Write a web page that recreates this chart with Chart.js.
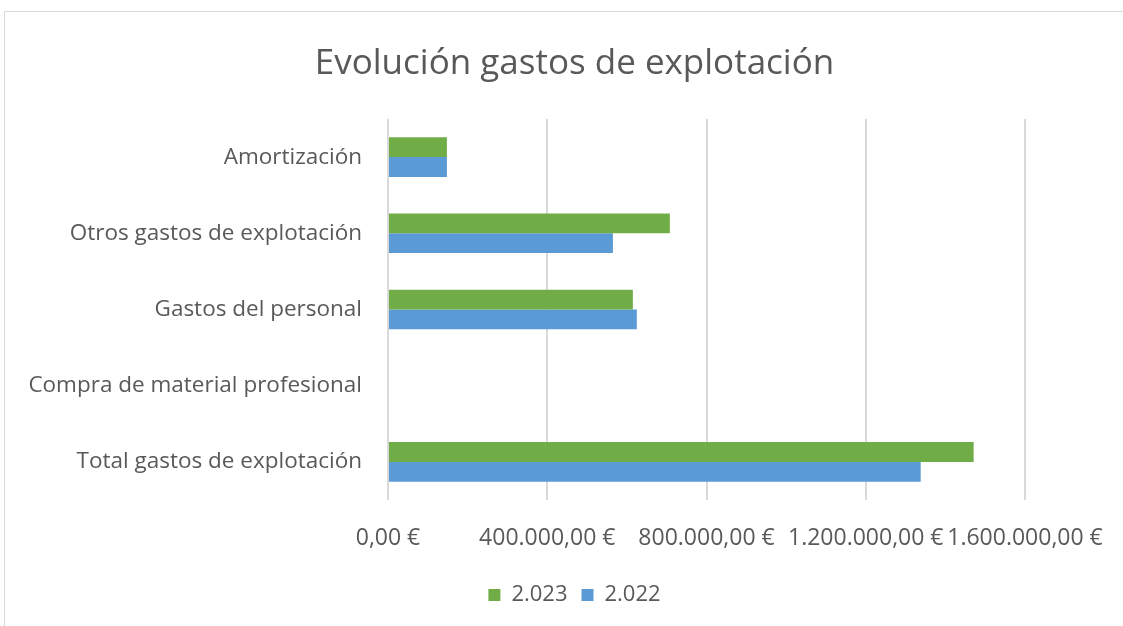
<!DOCTYPE html>
<html>
<head>
<meta charset="utf-8">
<script src="https://cdn.jsdelivr.net/npm/chart.js@4.4.1/dist/chart.umd.min.js"></script>
<style>
    html, body { margin: 0; padding: 0; background: #ffffff; }
    #wrap { position: relative; width: 1123px; height: 626px; overflow: hidden; }
    #frame { position: absolute; left: 4px; top: 11px; width: 1130px; height: 630px; border: 1px solid #d9d9d9; box-sizing: border-box; }
    #chart { position: absolute; left: 0; top: 0; }
</style>
</head>
<body>
<div id="wrap">
    <div id="frame"></div>
    <canvas id="chart" width="1123" height="626"></canvas>
</div>
<script>
    // Data
    const categories = [
        "Amortización",
        "Otros gastos de explotación",
        "Gastos del personal",
        "Compra de material profesional",
        "Total gastos de explotación"
    ];
    const values2023 = [148000, 708000, 615000, 0, 1471000];
    const values2022 = [148000, 565000, 625000, 0, 1338000];
    const tickValues = [0, 400000, 800000, 1200000, 1600000];

    function formatEuro(v) {
        const parts = v.toFixed(2).split(".");
        const ent = parts[0].replace(/\B(?=(\d{3})+(?!\d))/g, ".");
        return ent + "," + parts[1] + " €";
    }

    const fontFamily = "'Open Sans', sans-serif";
    const textColor = "#595959";

    new Chart(document.getElementById("chart"), {
        type: "bar",
        data: {
            labels: categories,
            datasets: [
                {
                    label: "2.023",
                    data: values2023,
                    backgroundColor: "#70ad47",
                    categoryPercentage: 0.52,
                    barPercentage: 1.0,
                },
                {
                    label: "2.022",
                    data: values2022,
                    backgroundColor: "#5b9bd5",
                    categoryPercentage: 0.52,
                    barPercentage: 1.0,
                },
            ],
        },
        options: {
            indexAxis: "y",
            responsive: false,
            animation: false,
            layout: {
                padding: { left: 26, right: 0, top: 0, bottom: 10 },
            },
            plugins: {
                title: {
                    display: true,
                    text: "Evolución gastos de explotación",
                    color: textColor,
                    font: { family: fontFamily, size: 35, weight: "normal" },
                    padding: { top: 43, bottom: 34 },
                },
                legend: {
                    display: true,
                    position: "bottom",
                    labels: {
                        color: textColor,
                        font: { family: fontFamily, size: 22 },
                        boxWidth: 12,
                        boxHeight: 12,
                        padding: 14,
                    },
                },
                tooltip: { enabled: false },
            },
            scales: {
                x: {
                    min: 0,
                    max: 1600000,
                    afterBuildTicks: function (scale) {
                        scale.ticks = tickValues.map(v => ({ value: v }));
                    },
                    afterFit: function (scale) {
                        scale.height = 70;
                        scale.paddingLeft = 0;
                        scale.paddingRight = 0;
                    },
                    grid: { color: "#d9d9d9", lineWidth: 2, drawTicks: false },
                    border: { display: false },
                    ticks: {
                        color: textColor,
                        font: { family: fontFamily, size: 23 },
                        padding: 25,
                        maxRotation: 0,
                        autoSkip: false,
                        callback: function (value) { return formatEuro(value); },
                    },
                },
                y: {
                    grid: { display: false },
                    border: { display: false },
                    afterFit: function (scale) { scale.width = 362; },
                    ticks: {
                        color: textColor,
                        font: { family: fontFamily, size: 22.5 },
                        padding: 18,
                    },
                },
                // empty right-hand axis keeps room for the last tick label
                yRight: {
                    type: "linear",
                    axis: "y",
                    position: "right",
                    display: true,
                    grid: { display: false },
                    border: { display: false },
                    ticks: { display: false },
                    afterFit: function (scale) { scale.width = 98; },
                },
            },
        },
    });
</script>
</body>
</html>
